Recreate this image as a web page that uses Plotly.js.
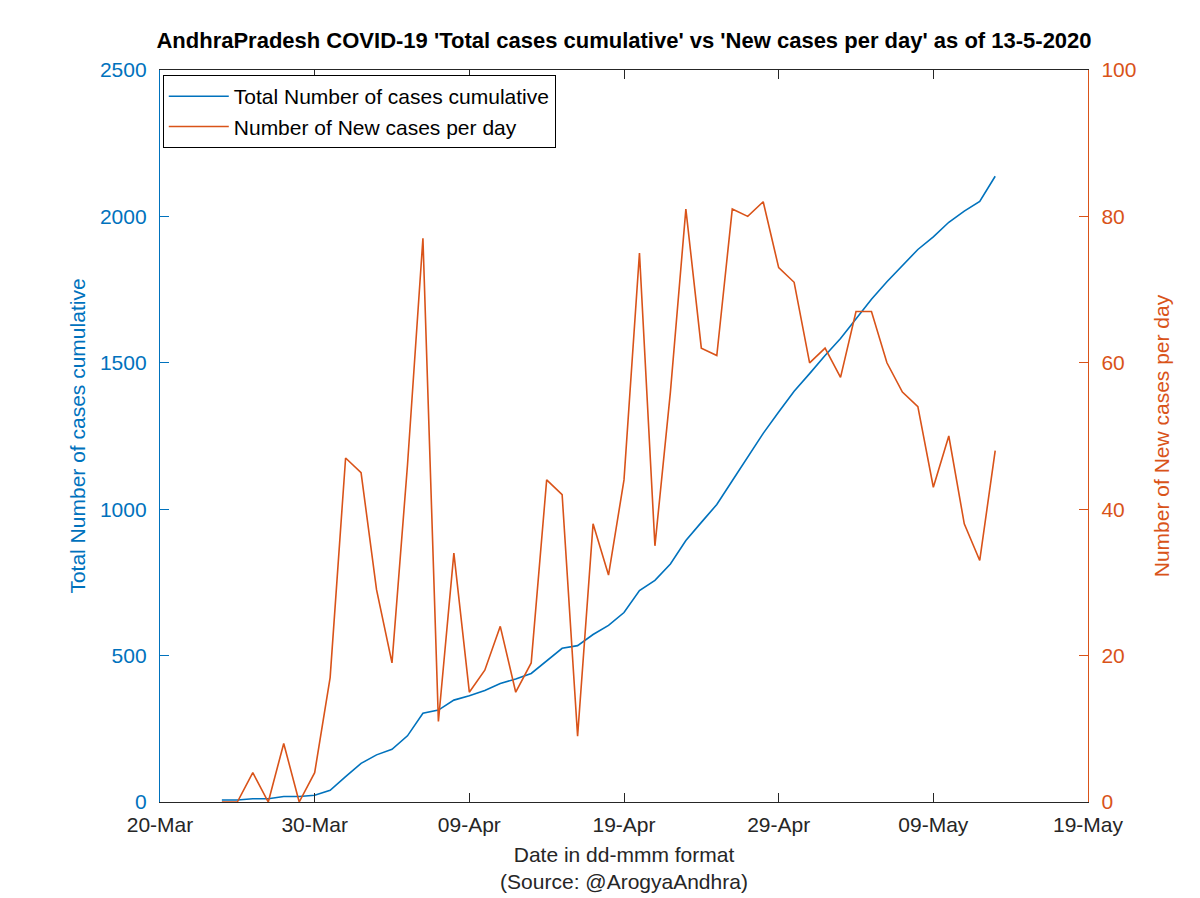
<!DOCTYPE html>
<html>
<head>
<meta charset="utf-8">
<script src="https://cdn.plot.ly/plotly-3.0.1.min.js"></script>
<style>
  html, body { margin: 0; padding: 0; background: #ffffff; }
  #chart { width: 1200px; height: 898px; }
</style>
</head>
<body>
<div id="chart"></div>
<script>
// ---- Data ----
const dates = [
  '2020-03-24','2020-03-25','2020-03-26','2020-03-27','2020-03-28','2020-03-29','2020-03-30','2020-03-31',
  '2020-04-01','2020-04-02','2020-04-03','2020-04-04','2020-04-05','2020-04-06','2020-04-07','2020-04-08',
  '2020-04-09','2020-04-10','2020-04-11','2020-04-12','2020-04-13','2020-04-14','2020-04-15','2020-04-16',
  '2020-04-17','2020-04-18','2020-04-19','2020-04-20','2020-04-21','2020-04-22','2020-04-23','2020-04-24',
  '2020-04-25','2020-04-26','2020-04-27','2020-04-28','2020-04-29','2020-04-30',
  '2020-05-01','2020-05-02','2020-05-03','2020-05-04','2020-05-05','2020-05-06','2020-05-07','2020-05-08',
  '2020-05-09','2020-05-10','2020-05-11','2020-05-12','2020-05-13'
];
const totalCases = [
  7, 7, 11, 11, 19, 19, 23, 40,
  87, 132, 161, 180, 226, 303, 314, 348, 363, 381, 405, 420, 439, 483, 525, 534,
  572, 603, 647, 722, 757, 813, 893, 955, 1016, 1097, 1177, 1259, 1332, 1403,
  1463, 1525, 1583, 1650, 1717, 1777, 1833, 1887, 1930, 1980, 2018, 2051, 2137
];
const newCases = [
  0, 0, 4, 0, 8, 0, 4, 17,
  47, 45, 29, 19, 46, 77, 11, 34, 15, 18, 24, 15, 19, 44, 42, 9,
  38, 31, 44, 75, 35, 56, 81, 62, 61, 81, 80, 82, 73, 71,
  60, 62, 58, 67, 67, 60, 56, 54, 43, 50, 38, 33, 48
];
const xTickVals = ['2020-03-20','2020-03-30','2020-04-09','2020-04-19','2020-04-29','2020-05-09','2020-05-19'];
const xTickText = ['20-Mar','30-Mar','09-Apr','19-Apr','29-Apr','09-May','19-May'];
const xRange = ['2020-03-20', '2020-05-19'];
const leftTicks = [0, 500, 1000, 1500, 2000, 2500];
const rightTicks = [0, 20, 40, 60, 80, 100];

// ---- Styling ----
const BLUE = '#0072BD';
const ORANGE = '#D95319';
const DARK = '#262626';
const FONT = '"Liberation Sans", Arial, Helvetica, sans-serif';
const FS = 21;

const traces = [
  {
    x: dates, y: totalCases, type: 'scatter', mode: 'lines',
    name: 'Total Number of cases cumulative',
    line: { color: BLUE, width: 1.6 },
    yaxis: 'y'
  },
  {
    x: dates, y: newCases, type: 'scatter', mode: 'lines',
    name: 'Number of New cases per day',
    line: { color: ORANGE, width: 1.6 },
    yaxis: 'y2'
  }
];

const layout = {
  width: 1200, height: 898,
  margin: { l: 160, r: 112, t: 70, b: 96 },
  paper_bgcolor: '#ffffff', plot_bgcolor: '#ffffff',
  font: { family: FONT, size: FS, color: DARK },
  showlegend: true,
  title: {
    text: "<b>AndhraPradesh COVID-19 'Total cases cumulative' vs 'New cases per day' as of 13-5-2020</b>",
    font: { family: FONT, size: 22, color: '#000000' },
    x: 0.5, xref: 'paper', xanchor: 'center',
    y: 1 - 40 / 898, yref: 'container', yanchor: 'middle'
  },
  xaxis: {
    type: 'date', range: xRange,
    tickmode: 'array', tickvals: xTickVals, ticktext: xTickText,
    ticks: 'inside', ticklen: 9, tickwidth: 1, tickcolor: DARK,
    showline: true, linecolor: DARK, linewidth: 1.2, mirror: 'ticks',
    showgrid: false, zeroline: false,
    tickfont: { family: FONT, size: FS, color: DARK },
    ticklabelstandoff: 4,
    title: {
      text: 'Date in dd-mmm format<br>(Source: @ArogyaAndhra)',
      font: { family: FONT, size: FS, color: DARK },
      standoff: 11
    }
  },
  yaxis: {
    range: [0, 2500], tickmode: 'array', tickvals: leftTicks,
    ticks: 'inside', ticklen: 9, tickwidth: 1, tickcolor: BLUE,
    showline: true, linecolor: BLUE, linewidth: 1.2,
    showgrid: false, zeroline: false,
    tickfont: { family: FONT, size: FS, color: BLUE },
    ticklabelstandoff: 8,
    title: {
      text: 'Total Number of cases cumulative',
      font: { family: FONT, size: FS, color: BLUE },
      standoff: 8
    }
  },
  yaxis2: {
    overlaying: 'y', side: 'right',
    range: [0, 100], tickmode: 'array', tickvals: rightTicks,
    ticks: 'inside', ticklen: 9, tickwidth: 1, tickcolor: ORANGE,
    showline: true, linecolor: ORANGE, linewidth: 1.2,
    showgrid: false, zeroline: false,
    tickfont: { family: FONT, size: FS, color: ORANGE },
    ticklabelstandoff: 8,
    title: {
      text: 'Number of New cases per day',
      font: { family: FONT, size: FS, color: ORANGE },
      standoff: 18
    }
  },
  legend: {
    x: 0.003, xanchor: 'left', y: 0.993, yanchor: 'top',
    bgcolor: '#ffffff', bordercolor: '#000000', borderwidth: 1,
    font: { family: FONT, size: FS, color: '#000000' },
    itemwidth: 60, tracegroupgap: 0
  }
};

Plotly.newPlot('chart', traces, layout, { displayModeBar: false, staticPlot: true });
</script>
</body>
</html>
